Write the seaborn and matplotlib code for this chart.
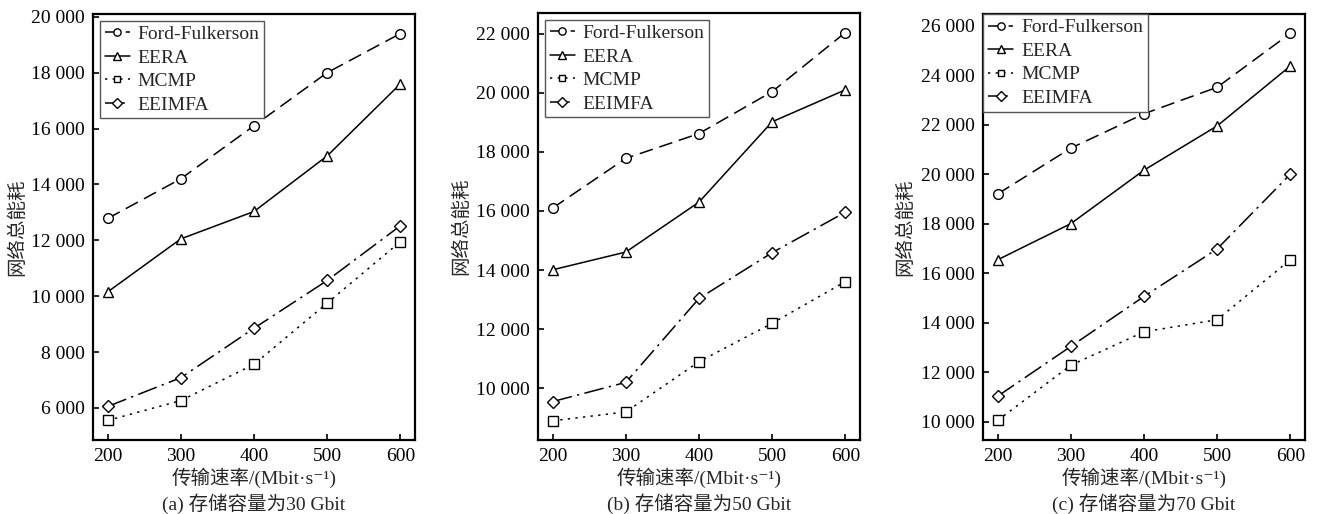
import numpy as np
import pandas as pd
import matplotlib
matplotlib.use("Agg")
import matplotlib.pyplot as plt
import seaborn as sns

# transmission rate (Mbit/s)
rates = [200, 300, 400, 500, 600]
algos = ["Ford-Fulkerson", "EERA", "MCMP", "EEIMFA"]

# (a) storage capacity 30 Gbit
ff_30 = [12780, 14200, 16100, 18000, 19400]
eera_30 = [10150, 12050, 13030, 15020, 17600]
mcmp_30 = [5550, 6260, 7560, 9750, 11950]
eeimfa_30 = [6050, 7080, 8850, 10560, 12520]

# (b) storage capacity 50 Gbit
ff_50 = [16100, 17780, 18620, 20040, 22040]
eera_50 = [14010, 14610, 16300, 19020, 20100]
mcmp_50 = [8900, 9200, 10900, 12200, 13610]
eeimfa_50 = [9550, 10200, 13040, 14590, 15960]

# (c) storage capacity 70 Gbit
ff_70 = [19200, 21050, 22440, 23510, 25690]
eera_70 = [16540, 18000, 20160, 21950, 24370]
mcmp_70 = [10050, 12280, 13630, 14120, 16540]
eeimfa_70 = [11030, 13040, 15060, 16980, 20000]

panels = [
    ("(a) 存储容量为30 Gbit", [ff_30, eera_30, mcmp_30, eeimfa_30], np.arange(6000, 20001, 2000), (4850, 20100)),
    ("(b) 存储容量为50 Gbit", [ff_50, eera_50, mcmp_50, eeimfa_50], np.arange(10000, 22001, 2000), (8250, 22700)),
    ("(c) 存储容量为70 Gbit", [ff_70, eera_70, mcmp_70, eeimfa_70], np.arange(10000, 26001, 2000), (9260, 26470)),
]

styles = {
    "Ford-Fulkerson": dict(marker="o", markersize=7, linestyle=(0, (9, 4.5))),
    "EERA": dict(marker="^", markersize=7, linestyle="-"),
    "MCMP": dict(marker="s", markersize=6.5, linestyle=(0, (1.5, 3.5))),
    "EEIMFA": dict(marker="D", markersize=6.3, linestyle=(0, (13, 3.5, 1.5, 3.5))),
}

sns.set_theme(style="ticks")
plt.rcParams["font.family"] = ["Liberation Serif", "Noto Sans CJK SC", "DejaVu Serif"]
plt.rcParams["axes.unicode_minus"] = False

W, H = 1317, 514
fig = plt.figure(figsize=(W / 100, H / 100), dpi=100)

# axes boxes in pixels: left, top, right, bottom
boxes = [(93, 14, 415, 440), (538, 13, 860, 440), (983, 14, 1305, 440)]
ylab_x = [26, 470, 914]
leg_pad = [0.35, 0.35, 0.0]

for i, (title, series, yticks, ylim) in enumerate(panels):
    l, t, r, b = boxes[i]
    ax = fig.add_axes([l / W, (H - b) / H, (r - l) / W, (b - t) / H])

    for name, vals in zip(algos, series):
        df = pd.DataFrame({"rate": rates, "energy": vals})
        sns.lineplot(data=df, x="rate", y="energy", ax=ax, color="black",
                     linewidth=1.1, markerfacecolor="white", markeredgecolor="black",
                     markeredgewidth=1.0, errorbar=None, label=name, **styles[name])

    ax.set_xlim(180, 620)
    ax.set_ylim(*ylim)
    ax.set_xticks(rates)
    ax.set_yticks(yticks)
    ax.set_yticklabels([f"{v:,}".replace(",", " ") for v in yticks])
    ax.tick_params(direction="in", length=4, width=1.2, labelsize=14, pad=6, colors="black")
    for s in ax.spines.values():
        s.set_linewidth(1.6)
        s.set_color("black")

    ax.set_xlabel("")
    ax.set_ylabel("网络总能耗", fontsize=14)
    ax.yaxis.set_label_coords((ylab_x[i] - l) / (r - l), 0.5)
    ax.text(0.5, (b - 478) / (b - t), "传输速率/(Mbit·s⁻¹)", transform=ax.transAxes,
            ha="center", va="center", fontsize=14)
    ax.text(0.5, (b - 504) / (b - t), title, transform=ax.transAxes,
            ha="center", va="center", fontsize=14)

    leg = ax.legend(loc="upper left", fontsize=14, frameon=True, fancybox=False,
                    edgecolor="#555555", framealpha=1, borderaxespad=leg_pad[i],
                    handlelength=1.3, handletextpad=0.4, labelspacing=0.3,
                    borderpad=0.25, markerscale=0.75)
    leg.get_frame().set_linewidth(1.0)

fig.savefig("out.png", dpi=100)
